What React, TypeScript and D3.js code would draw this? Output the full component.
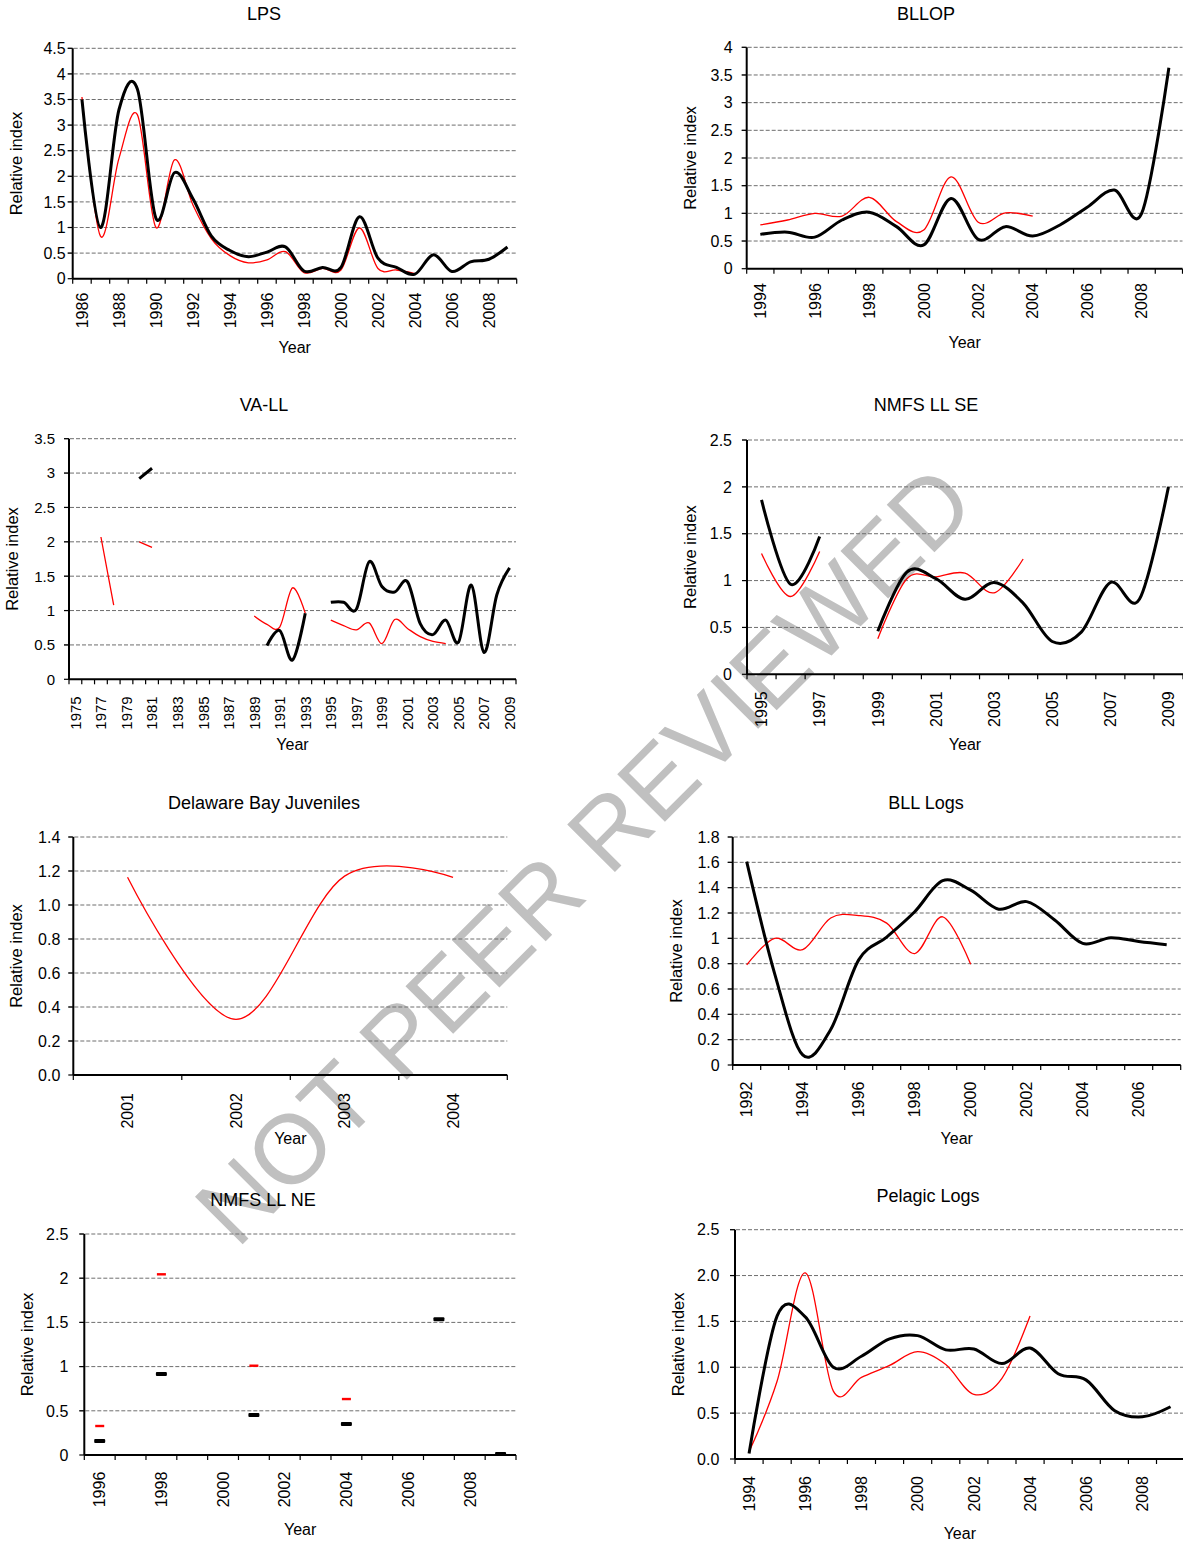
import React from "react";
import * as d3 from "d3";

const FONT = "'Liberation Sans', Arial, Helvetica, sans-serif";

// ---------- DATA ----------
// LPS
const lpsYears = [1986, 1987, 1988, 1989, 1990, 1991, 1992, 1993, 1994, 1995, 1996, 1997, 1998, 1999, 2000, 2001, 2002, 2003, 2004, 2005, 2006, 2007, 2008, 2009];
const lpsBlack = [3.5, 1.0, 3.3, 3.7, 1.18, 2.07, 1.56, 0.83, 0.55, 0.43, 0.52, 0.62, 0.15, 0.22, 0.22, 1.21, 0.4, 0.22, 0.09, 0.47, 0.14, 0.33, 0.38, 0.62];
const lpsRed = [3.55, 0.83, 2.35, 3.2, 1.0, 2.32, 1.44, 0.78, 0.45, 0.31, 0.37, 0.53, 0.12, 0.2, 0.17, 0.99, 0.2, 0.17, 0.1, null, null, null, null, null];
const lpsTicks = [0, 0.5, 1, 1.5, 2, 2.5, 3, 3.5, 4, 4.5];

// BLLOP
const bllopYears = [1994, 1995, 1996, 1997, 1998, 1999, 2000, 2001, 2002, 2003, 2004, 2005, 2006, 2007, 2008, 2009];
const bllopBlack = [0.62, 0.66, 0.57, 0.88, 1.02, 0.76, 0.43, 1.27, 0.53, 0.76, 0.59, 0.79, 1.11, 1.42, 1.0, 3.63];
const bllopRed = [0.79, 0.88, 1.0, 0.95, 1.29, 0.85, 0.7, 1.66, 0.84, 1.01, 0.95, null, null, null, null, null];
const bllopTicks = [0, 0.5, 1, 1.5, 2, 2.5, 3, 3.5, 4];

// VA-LL
const vallYears = [1975, 1976, 1977, 1978, 1979, 1980, 1981, 1982, 1983, 1984, 1985, 1986, 1987, 1988, 1989, 1990, 1991, 1992, 1993, 1994, 1995, 1996, 1997, 1998, 1999, 2000, 2001, 2002, 2003, 2004, 2005, 2006, 2007, 2008, 2009];
const vallBlack = [null, null, null, null, null, 2.92, 3.07, null, null, null, null, null, null, null, null, 0.49, 0.71, 0.28, 0.96, null, 1.12, 1.12, 1.02, 1.71, 1.35, 1.27, 1.42, 0.81, 0.65, 0.86, 0.54, 1.37, 0.39, 1.23, 1.62];
const vallRed = [null, null, 2.07, 1.08, null, 2.0, 1.92, null, null, null, null, null, null, null, 0.92, 0.8, 0.76, 1.33, 0.96, null, 0.86, 0.78, 0.72, 0.82, 0.52, 0.87, 0.74, 0.62, 0.55, 0.52, null, null, null, null, null];
const vallTicks = [0, 0.5, 1, 1.5, 2, 2.5, 3, 3.5];

// NMFS LL SE
const seYears = [1995, 1996, 1997, 1998, 1999, 2000, 2001, 2002, 2003, 2004, 2005, 2006, 2007, 2008, 2009];
const seBlack = [1.86, 0.96, 1.47, null, 0.46, 1.09, 1.02, 0.8, 0.98, 0.76, 0.35, 0.45, 0.98, 0.8, 2.0];
const seRed = [1.29, 0.83, 1.31, null, 0.38, 1.02, 1.04, 1.08, 0.87, 1.23, null, null, null, null, null];
const seTicks = [0, 0.5, 1, 1.5, 2, 2.5];

// Delaware Bay Juveniles
const delYears = [2001, 2002, 2003, 2004];
const delRed = [1.163, 0.327, 1.17, 1.163];
const delTicks = [0, 0.2, 0.4, 0.6, 0.8, 1.0, 1.2, 1.4];

// BLL Logs
const bllYears = [1992, 1993, 1994, 1995, 1996, 1997, 1998, 1999, 2000, 2001, 2002, 2003, 2004, 2005, 2006, 2007];
const bllBlack = [1.605, 0.72, 0.08, 0.28, 0.83, 1.01, 1.21, 1.455, 1.38, 1.23, 1.29, 1.145, 0.96, 1.005, 0.975, 0.95];
const bllRed = [0.79, 1.0, 0.91, 1.16, 1.18, 1.12, 0.88, 1.17, 0.795, null, null, null, null, null, null, null];
const bllTicks = [0, 0.2, 0.4, 0.6, 0.8, 1, 1.2, 1.4, 1.6, 1.8];

// NMFS LL NE
const neYears = [1996, 1997, 1998, 1999, 2000, 2001, 2002, 2003, 2004, 2005, 2006, 2007, 2008, 2009];
const neBlack = [0.158, null, 0.916, null, null, 0.452, null, null, 0.351, null, null, 1.535, null, 0.01];
const neRed = [0.328, null, 2.044, null, null, 1.01, null, null, 0.633, null, null, null, null, null];
const neTicks = [0, 0.5, 1, 1.5, 2, 2.5];

// Pelagic Logs
const pelYears = [1994, 1995, 1996, 1997, 1998, 1999, 2000, 2001, 2002, 2003, 2004, 2005, 2006, 2007, 2008, 2009];
const pelBlack = [0.06, 1.56, 1.55, 1.0, 1.12, 1.31, 1.345, 1.19, 1.2, 1.04, 1.21, 0.93, 0.86, 0.53, 0.46, 0.57];
const pelRed = [0.08, 0.85, 2.03, 0.74, 0.89, 1.02, 1.17, 1.03, 0.705, 0.88, 1.56, null, null, null, null, null];
const pelTicks = [0, 0.5, 1, 1.5, 2, 2.5];

// ---------- LAYOUT ----------
type Val = number | null;
type PanelSpec = {
  title: string;
  years: number[];
  black?: Val[];
  red?: Val[];
  ticks: number[];
  fmt: string;
  markers?: boolean;
  labelEvery: number;
  left: number; right: number; top: number; bottom: number;
  titleX: number; titleY: number;
  yGap: number; xGap: number; yearDy: number; tickFont: number;
};

const panels: PanelSpec[] = [
  { title: "LPS", years: lpsYears, black: lpsBlack, red: lpsRed, ticks: lpsTicks, fmt: "~g", labelEvery: 2,
    left: 72.7, right: 516.7, top: 48.3, bottom: 278.7, titleX: 264, titleY: 14, yGap: 7, xGap: 14, yearDy: 69, tickFont: 16 },
  { title: "BLLOP", years: bllopYears, black: bllopBlack, red: bllopRed, ticks: bllopTicks, fmt: "~g", labelEvery: 2,
    left: 746.7, right: 1182.5, top: 47.3, bottom: 268.7, titleX: 926, titleY: 14, yGap: 14, xGap: 14.5, yearDy: 73.5, tickFont: 16 },
  { title: "VA-LL", years: vallYears, black: vallBlack, red: vallRed, ticks: vallTicks, fmt: "~g", labelEvery: 2,
    left: 69, right: 516, top: 438.7, bottom: 679.3, titleX: 264, titleY: 405, yGap: 14, xGap: 17, yearDy: 65, tickFont: 15 },
  { title: "NMFS LL SE", years: seYears, black: seBlack, red: seRed, ticks: seTicks, fmt: "~g", labelEvery: 2,
    left: 747, right: 1183, top: 440, bottom: 674.3, titleX: 926, titleY: 405, yGap: 15, xGap: 17, yearDy: 70, tickFont: 16 },
  { title: "Delaware Bay Juveniles", years: delYears, red: delRed, ticks: delTicks, fmt: ".1f", labelEvery: 1,
    left: 73.3, right: 507.3, top: 837, bottom: 1075, titleX: 264, titleY: 803, yGap: 13, xGap: 18, yearDy: 63, tickFont: 16 },
  { title: "BLL Logs", years: bllYears, black: bllBlack, red: bllRed, ticks: bllTicks, fmt: "~g", labelEvery: 2,
    left: 732.7, right: 1180.7, top: 837, bottom: 1065, titleX: 926, titleY: 803, yGap: 13, xGap: 16.7, yearDy: 73, tickFont: 16 },
  { title: "NMFS LL NE", years: neYears, black: neBlack, red: neRed, ticks: neTicks, fmt: "~g", labelEvery: 2, markers: true,
    left: 84.3, right: 516, top: 1234, bottom: 1455, titleX: 263, titleY: 1200, yGap: 16, xGap: 16.7, yearDy: 74, tickFont: 16 },
  { title: "Pelagic Logs", years: pelYears, black: pelBlack, red: pelRed, ticks: pelTicks, fmt: ".1f", labelEvery: 2,
    left: 735, right: 1184.6, top: 1229.7, bottom: 1459, titleX: 928, titleY: 1196, yGap: 15.7, xGap: 17, yearDy: 74, tickFont: 16 },
];

function Panel({ p }: { p: PanelSpec }) {
  const x = d3.scaleBand<number>().domain(p.years).range([p.left, p.right]).paddingInner(0).paddingOuter(0);
  const bw = x.bandwidth();
  const cx = (yr: number) => (x(yr) as number) + bw / 2;
  const yMax = p.ticks[p.ticks.length - 1];
  const y = d3.scaleLinear().domain([0, yMax]).range([p.bottom, p.top]);
  const fmt = d3.format(p.fmt);
  const line = d3
    .line<Val>()
    .defined((d) => d != null)
    .x((_, i) => cx(p.years[i]))
    .y((d) => y(d as number))
    .curve(d3.curveCardinal.tension(0));
  const tickXs = [...p.years.map((yr) => x(yr) as number), p.right];

  return (
    <g fontFamily={FONT} fill="#000">
      {p.ticks.filter((t) => t > 0).map((t) => (
        <line key={"g" + t} x1={p.left - 5} x2={p.right} y1={y(t)} y2={y(t)} stroke="#6e6e6e" strokeWidth={1} strokeDasharray="4 2" />
      ))}
      {p.ticks.map((t) => (
        <g key={"yt" + t}>
          <line x1={p.left - 5} x2={p.left} y1={y(t)} y2={y(t)} stroke="#000" strokeWidth={1.2} />
          <text x={p.left - p.yGap} y={y(t)} dy="0.36em" textAnchor="end" fontSize={p.tickFont}>{fmt(t)}</text>
        </g>
      ))}
      {tickXs.map((tx, i) => (
        <line key={"xt" + i} x1={tx} x2={tx} y1={p.bottom} y2={p.bottom + 5} stroke="#000" strokeWidth={1.2} />
      ))}
      {p.years.map((yr, i) =>
        i % p.labelEvery === 0 ? (
          <text key={"xl" + yr} transform={`translate(${cx(yr)},${p.bottom + p.xGap}) rotate(-90)`} dy="0.36em" textAnchor="end" fontSize={p.tickFont}>
            {yr}
          </text>
        ) : null
      )}
      <line x1={p.left} x2={p.left} y1={p.top} y2={p.bottom} stroke="#000" strokeWidth={2} />
      <line x1={p.left} x2={p.right} y1={p.bottom} y2={p.bottom} stroke="#000" strokeWidth={2} />
      {!p.markers && p.red && <path d={line(p.red) || ""} fill="none" stroke="#ff0000" strokeWidth={1.3} />}
      {!p.markers && p.black && <path d={line(p.black) || ""} fill="none" stroke="#000" strokeWidth={3} strokeLinejoin="round" />}
      {p.markers && p.black &&
        p.black.map((v, i) =>
          v == null ? null : <rect key={"mb" + i} x={cx(p.years[i]) - 5.5} y={y(v) - 2} width={11} height={4} rx={1} fill="#000" />
        )}
      {p.markers && p.red &&
        p.red.map((v, i) =>
          v == null ? null : <rect key={"mr" + i} x={cx(p.years[i]) - 4.5} y={y(v) - 1.2} width={9} height={2.4} fill="#ff0000" />
        )}
      <text x={p.titleX} y={p.titleY} dy="0.36em" textAnchor="middle" fontSize={18}>{p.title}</text>
      <text x={(p.left + p.right) / 2} y={p.bottom + p.yearDy} dy="0.36em" textAnchor="middle" fontSize={16}>Year</text>
      <text transform={`translate(${p.left - 57},${(p.top + p.bottom) / 2}) rotate(-90)`} dy="0.36em" textAnchor="middle" fontSize={16.5}>
        Relative index
      </text>
    </g>
  );
}

export default function App() {
  return (
    <div style={{ position: "absolute", left: 0, top: 0 }}>
      <svg width={1183} height={1542} style={{ display: "block", background: "#fff" }}>
        <rect width={1183} height={1542} fill="#fff" />
        <text
          transform="translate(583,854) rotate(-45)"
          dy="0.36em"
          textAnchor="middle"
          fontFamily={FONT}
          fontSize={98}
          fill="#c0c0c0"
        >
          NOT PEER REVIEWED
        </text>
        {panels.map((p) => (
          <Panel key={p.title} p={p} />
        ))}
      </svg>
    </div>
  );
}
